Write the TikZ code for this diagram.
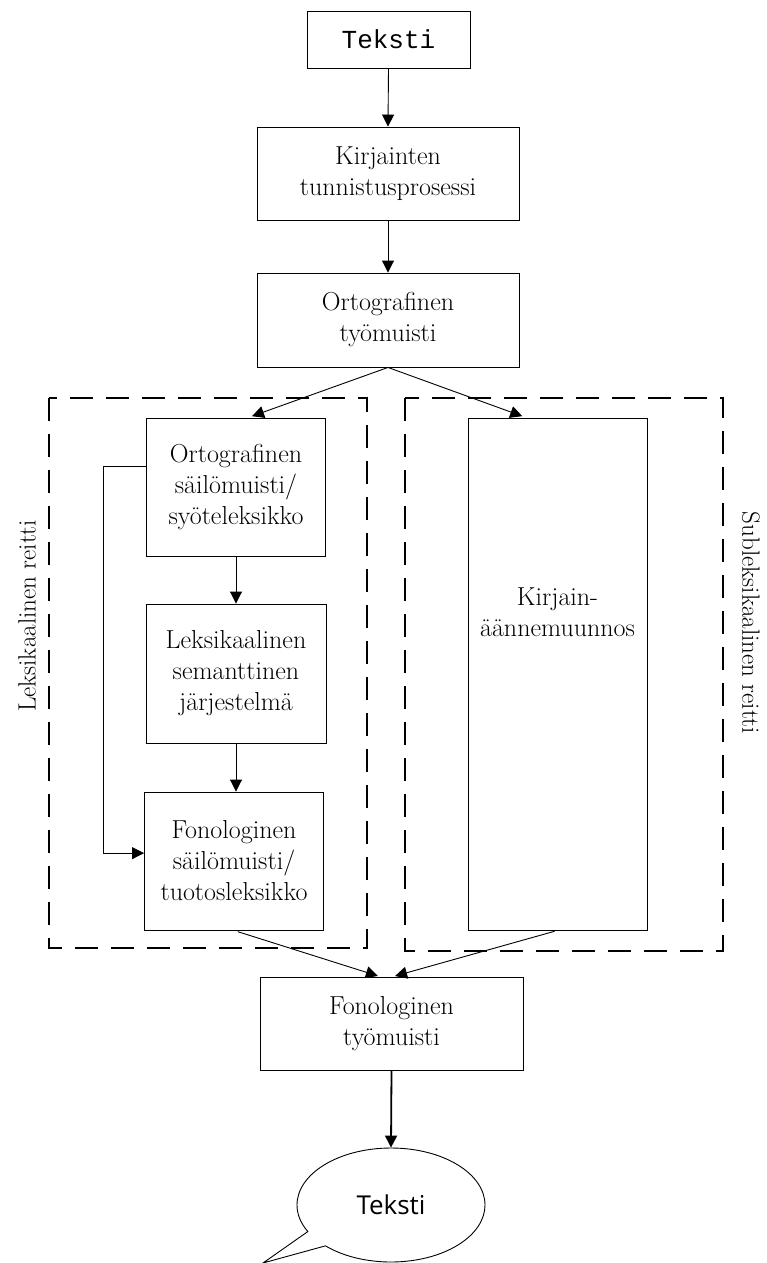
\documentclass[tikz,border=0pt]{standalone}
\usepackage{fontspec}
\setmonofont{Liberation Mono}
\newfontfamily\puhefont{Open Sans}
\usetikzlibrary{arrows.meta,shapes.callouts}

\begin{document}
\begin{tikzpicture}[x=1pt,y=-1pt,
    box/.style={draw,line width=0.9pt,inner sep=0pt,align=center,font=\fontsize{26}{31}\selectfont},
    arr/.style={-{Triangle[width=12pt,length=12pt]},line width=0.9pt},
    route/.style={line width=1.1pt,dash pattern=on 23pt off 13pt},
    sivu/.style={inner sep=0pt,font=\fontsize{25}{30}\selectfont}]
  \useasboundingbox (0,0) rectangle (766,1263);
  % reitit
  \draw [route] (49,398) rectangle (367,948);
  \draw [route] (405,398) rectangle (723,951);
  \node [sivu,rotate=90] (leksreitti) at (27,616) {Leksikaalinen reitti};
  \node [sivu,rotate=-90] (subreitti) at (751,623) {Subleksikaalinen reitti};
  % laatikot
  \node [box,minimum width=163,minimum height=57,font=\ttfamily\fontsize{26}{30}\selectfont] (teksti) at (388.5,39.5) {Teksti};
  \node [box,minimum width=262,minimum height=93] (kirj) at (388,173.5) {Kirjainten\\tunnistusprosessi};
  \node [box,minimum width=262,minimum height=94] (orttyo) at (388,320) {Ortografinen\\työmuisti};
  \node [box,minimum width=179,minimum height=138] (ortsail) at (236,487) {Ortografinen\\säilömuisti/\\syöteleksikko};
  \node [box,minimum width=180,minimum height=139] (leks) at (236,673.5) {Leksikaalinen\\semanttinen\\järjestelmä};
  \node [box,minimum width=179,minimum height=138] (fonsail) at (234,861) {Fonologinen\\säilömuisti/\\tuotosleksikko};
  \node [box,minimum width=179,minimum height=512] (muunnos) at (557.5,674) {};
  \node [box,draw=none] (muunnosteksti) at (557.5,612) {Kirjain-\\äännemuunnos};
  \node [box,minimum width=263,minimum height=93] (fontyo) at (391.5,1023.5) {Fonologinen\\työmuisti};
  \node [draw,line width=0.9pt,ellipse callout,minimum width=188,minimum height=114,callout pointer arc=18,
         callout absolute pointer={(263,1263)},font=\puhefont\fontsize{26}{30}\selectfont] (puhe) at (391,1205) {Teksti};
  % nuolet
  \coordinate (ohitus) at (103,0);
  \draw [arr] (teksti.south) -- (kirj.north);
  \draw [arr] (kirj.south) -- (orttyo.north);
  \draw [arr,shorten >=4pt] (orttyo.south) -- (ortsail.80);
  \draw [arr,shorten >=4pt] (orttyo.south) -- (muunnos.97);
  \draw [arr] (ortsail.south) -- (leks.north);
  \draw [arr] (leks.south) -- (leks.south |- fonsail.north);
  \draw [arr] (ortsail.167) -- (ortsail.167 -| ohitus) |- (fonsail.175);
  \draw [arr,shorten <=4pt,shorten >=2pt] (fonsail.south) -- (fontyo.104);
  \draw [arr,shorten <=3pt,shorten >=2pt] (muunnos.south) -- (fontyo.88);
  \draw [arr,line width=1.8pt] (fontyo.south) -- (puhe.north);
\end{tikzpicture}
\end{document}
